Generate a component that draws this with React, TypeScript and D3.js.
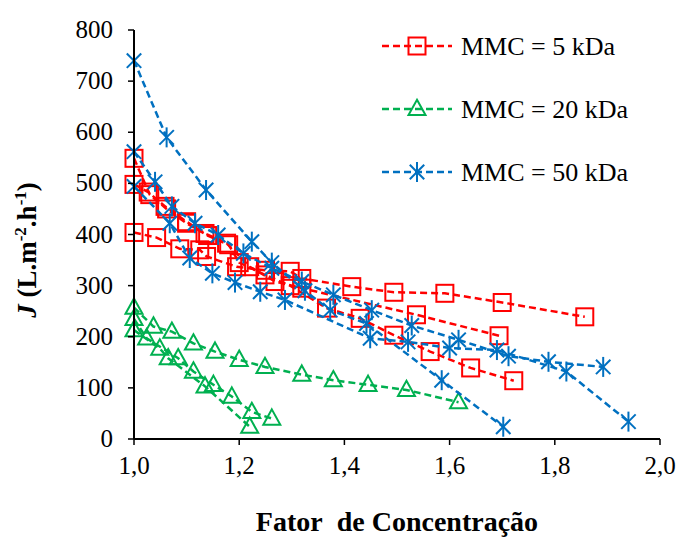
import React from "react";
import * as d3 from "d3";

// axis ticks
const xTicks = [1.0, 1.2, 1.4, 1.6, 1.8, 2.0];
const yTicks = [0, 100, 200, 300, 400, 500, 600, 700, 800];

// MMC = 5 kDa (three runs)
const mmc5RunA = [
  [1.0, 549], [1.03, 478], [1.062, 450], [1.1, 422], [1.14, 398], [1.18, 380],
  [1.2, 345], [1.249, 321], [1.297, 300], [1.366, 256], [1.43, 236], [1.494, 203],
  [1.563, 171], [1.64, 139], [1.722, 114],
];
const mmc5RunB = [
  [1.0, 498], [1.027, 483], [1.059, 455], [1.1, 425], [1.135, 402], [1.176, 383],
  [1.22, 337], [1.268, 308], [1.319, 295], [1.537, 243], [1.694, 202],
];
const mmc5RunC = [
  [1.0, 404], [1.043, 394], [1.087, 372], [1.125, 370], [1.138, 357], [1.195, 337],
  [1.25, 330], [1.297, 328], [1.319, 314], [1.414, 298], [1.494, 287], [1.591, 285],
  [1.7, 267], [1.857, 239],
];

// MMC = 20 kDa
const mmc20RunA = [
  [1.0, 257], [1.037, 220], [1.072, 210], [1.113, 187], [1.154, 171], [1.2, 155],
  [1.249, 141], [1.319, 126], [1.379, 115], [1.445, 106], [1.518, 96], [1.617, 72],
];
const mmc20RunB = [
  [1.0, 235], [1.024, 197], [1.084, 158], [1.113, 132], [1.151, 106], [1.186, 83],
  [1.224, 53], [1.262, 40],
];
const mmc20RunC = [
  [1.0, 213], [1.049, 177], [1.065, 158], [1.135, 103], [1.22, 24],
];

// MMC = 50 kDa
const mmc50RunA = [
  [1.0, 740], [1.062, 590], [1.137, 487], [1.224, 386], [1.262, 345], [1.325, 290],
  [1.373, 252], [1.442, 226], [1.585, 115], [1.702, 24],
];
const mmc50RunB = [
  [1.0, 562], [1.04, 503], [1.072, 455], [1.116, 422], [1.16, 399], [1.208, 363],
  [1.262, 334], [1.319, 308], [1.379, 282], [1.452, 252], [1.528, 222], [1.617, 194],
  [1.712, 162], [1.788, 151], [1.892, 141],
];
const mmc50RunC = [
  [1.0, 494], [1.068, 422], [1.106, 354], [1.149, 324], [1.192, 306], [1.24, 288],
  [1.287, 272], [1.449, 197], [1.521, 190], [1.6, 178], [1.69, 174], [1.822, 132],
  [1.94, 34],
];

const groups = [
  { label: "MMC = 5 kDa", color: "#FF0000", marker: "square", runs: [mmc5RunA, mmc5RunB, mmc5RunC] },
  { label: "MMC = 20 kDa", color: "#00B050", marker: "triangle", runs: [mmc20RunA, mmc20RunB, mmc20RunC] },
  { label: "MMC = 50 kDa", color: "#0070C0", marker: "star", runs: [mmc50RunA, mmc50RunB, mmc50RunC] },
];

const FONT = "Liberation Serif";

function Marker({ kind, x, y, color }: { kind: string; x: number; y: number; color: string }) {
  const s = 8.5;
  if (kind === "square") {
    return <rect x={x - s} y={y - s} width={2 * s} height={2 * s} fill="none" stroke={color} strokeWidth={2} />;
  }
  if (kind === "triangle") {
    const h = 2 * s * 0.9;
    const pts = [[x, y - h * 0.6], [x + s, y + h * 0.4], [x - s, y + h * 0.4]];
    return <polygon points={pts.map((p) => p.join(",")).join(" ")} fill="none" stroke={color} strokeWidth={2} />;
  }
  const d = s * 0.85;
  return (
    <g stroke={color} strokeWidth={2}>
      <line x1={x} y1={y - s - 1.5} x2={x} y2={y + s + 1.5} />
      <line x1={x - d} y1={y - d} x2={x + d} y2={y + d} />
      <line x1={x - d} y1={y + d} x2={x + d} y2={y - d} />
    </g>
  );
}

function T(props: any) {
  const { children, style, ...rest } = props;
  return (
    <text fontFamily={FONT} style={{ fontFamily: `"${FONT}"`, ...(style || {}) }} {...rest}>
      {children}
    </text>
  );
}

export default function App() {
  const x = d3.scaleLinear().domain([1, 2]).range([134, 660]);
  const y = d3.scaleLinear().domain([0, 800]).range([439, 30]);
  const line = d3
    .line<number[]>()
    .x((d) => x(d[0]))
    .y((d) => y(d[1]));

  return (
    <div style={{ fontFamily: `"${FONT}"` }}>
      <svg width={681} height={539} style={{ position: "absolute", left: 0, top: 0, background: "#fff" }}>
        <style>{`text, tspan { font-family: "Liberation Serif"; }`}</style>
        {/* series */}
        {groups.map((g) =>
          g.runs.map((run, i) => (
            <g key={g.label + i}>
              <path d={line(run) || ""} fill="none" stroke={g.color} strokeWidth={2.5} strokeDasharray="7,4" />
              {run.map((p, j) => (
                <Marker key={j} kind={g.marker} x={x(p[0])} y={y(p[1])} color={g.color} />
              ))}
            </g>
          ))
        )}

        {/* axes */}
        <line x1={x(1)} x2={x(1)} y1={y(800)} y2={y(0)} stroke="#000" strokeWidth={2} />
        <line x1={x(1)} x2={x(2)} y1={y(0)} y2={y(0)} stroke="#000" strokeWidth={2} />
        {yTicks.map((t) => (
          <g key={t}>
            <line x1={x(1) - 6} x2={x(1)} y1={y(t)} y2={y(t)} stroke="#000" strokeWidth={1.5} />
            <T x={x(1) - 21} y={y(t) + 8} textAnchor="end" fontSize={25}>
              {t}
            </T>
          </g>
        ))}
        {xTicks.map((t) => (
          <g key={t}>
            <line x1={x(t)} x2={x(t)} y1={y(0)} y2={y(0) + 6} stroke="#000" strokeWidth={1.5} />
            <T x={x(t)} y={y(0) + 35} textAnchor="middle" fontSize={25}>
              {d3.format(".1f")(t).replace(".", ",")}
            </T>
          </g>
        ))}

        {/* axis titles */}
        <T x={397} y={531} textAnchor="middle" fontSize={28} fontWeight="bold">
          Fator&#160; de Concentração
        </T>
        <T transform="translate(36,250) rotate(-90)" textAnchor="middle" fontSize={27} fontWeight="bold">
          <tspan fontStyle="italic">J</tspan> (L.m
          <tspan fontSize={17} dy={-10}>-2</tspan>
          <tspan dy={10}>.h</tspan>
          <tspan fontSize={17} dy={-10}>-1</tspan>
          <tspan dy={10}>)</tspan>
        </T>

        {/* legend */}
        {groups.map((g, i) => {
          const ly = 46 + i * 63;
          return (
            <g key={g.label}>
              <line x1={382} x2={452} y1={ly} y2={ly} stroke={g.color} strokeWidth={2.5} strokeDasharray="7,4" />
              <Marker kind={g.marker} x={417} y={ly} color={g.color} />
              <T x={461} y={ly + 9} fontSize={26}>
                {g.label}
              </T>
            </g>
          );
        })}
      </svg>
    </div>
  );
}
